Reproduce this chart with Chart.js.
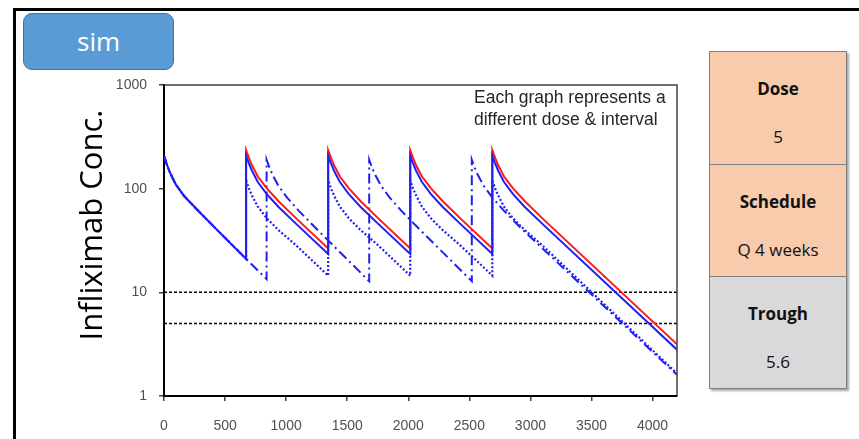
<!DOCTYPE html>
<html>
<head>
<meta charset="utf-8">
<script src="https://cdn.jsdelivr.net/npm/chart.js@4.4.1/dist/chart.umd.min.js"></script>
<style>
  html, body { margin: 0; padding: 0; background: #fff; }
  #wrap { position: relative; width: 859px; height: 439px; overflow: hidden; }
  #frame { position: absolute; left: 13px; top: 8px; width: 900px; height: 500px;
           border-left: 3px solid #000; border-top: 3px solid #000; }
  #box { position: absolute; left: 0; top: 0; width: 859px; height: 439px; }
  #sim { position: absolute; left: 23px; top: 13px; width: 151px; height: 57px; box-sizing: border-box;
         background: #5b9bd5; border: 1px solid #41719c; border-radius: 9px;
         color: #fff; font: 26px "Open Sans", sans-serif; text-align: center; line-height: 55px; }
  #panel { position: absolute; left: 709px; top: 51px; width: 138px; box-sizing: border-box;
           border: 1px solid #7f7f7f; box-shadow: 2px 2px 2px rgba(0,0,0,0.35);
           font-family: "Open Sans", sans-serif; color: #111; }
  .cell { position: relative; height: 112px; box-sizing: border-box; text-align: center; }
  .cell + .cell { border-top: 1px solid #7f7f7f; }
  .peach { background: #f8cbad; }
  .grey { background: #d9d9d9; }
  .head { position: absolute; left: 0; right: 0; top: 25px; line-height: 24px; font-size: 17px; font-weight: bold; }
  .val { position: absolute; left: 0; right: 0; top: 73px; line-height: 24px; font-size: 17px; }
</style>
</head>
<body>
<div id="wrap">
  <div id="frame"></div>
  <div id="box"><canvas id="pkChart"></canvas></div>
  <div id="sim">sim</div>
  <div id="panel">
    <div class="cell peach"><div class="head">Dose</div><div class="val">5</div></div>
    <div class="cell peach"><div class="head">Schedule</div><div class="val">Q 4 weeks</div></div>
    <div class="cell grey"><div class="head">Trough</div><div class="val">5.6</div></div>
  </div>
</div>
<script>
  // hours since first infusion, concentrations
  var q4Times = [0, 24, 48, 96, 168, 264, 408, 672,
    672, 696, 720, 768, 840, 936, 1080, 1344,
    1344, 1368, 1392, 1440, 1512, 1608, 1752, 2016,
    2016, 2040, 2064, 2112, 2184, 2280, 2424, 2688,
    2688, 2712, 2736, 2784, 2856, 2952, 3096, 4200];

  // blue solid: 5 mg/kg every 4 weeks
  var baseConc = [207, 170, 144, 110, 84, 64, 43, 21,
    208, 174, 149, 116, 89, 67, 46, 23.5,
    208, 174, 149, 116, 89, 67, 46, 23.5,
    208, 174, 149, 116, 89, 67, 46, 23.5,
    208, 174, 149, 116, 89, 67, 46, 2.8];

  // blue dotted: lower dose every 4 weeks
  var lowConc = [207, 170, 144, 110, 84, 64, 43, 21,
    120, 100, 86, 67, 52, 40, 28.5, 14.5,
    120, 100, 86, 67, 52, 40, 28.5, 14.5,
    120, 100, 86, 67, 52, 40, 28.5, 14.5,
    120, 100, 86, 67, 52, 40, 28.5, 1.65];

  // red solid: higher dose every 4 weeks, from the second infusion
  var highTimes = [672, 672, 696, 720, 768, 840, 936, 1080, 1344,
    1344, 1368, 1392, 1440, 1512, 1608, 1752, 2016,
    2016, 2040, 2064, 2112, 2184, 2280, 2424, 2688,
    2688, 2712, 2736, 2784, 2856, 2952, 3096, 4200];
  var highConc = [21, 235, 197, 168, 131, 101, 76, 52, 26.5,
    235, 197, 168, 131, 101, 76, 52, 26.5,
    235, 197, 168, 131, 101, 76, 52, 26.5,
    235, 197, 168, 131, 101, 76, 52, 3.15];

  // blue dash-dot: every 5 weeks
  var q5Times = [0, 24, 48, 96, 168, 264, 408, 840,
    840, 864, 888, 936, 1008, 1104, 1248, 1680,
    1680, 1704, 1728, 1776, 1848, 1944, 2088, 2520,
    2520, 2544, 2568, 2616, 2688, 2784, 2928, 4200];
  var q5Conc = [207, 170, 144, 110, 84, 64, 43, 13.4,
    190, 159, 137, 107, 82, 61, 41, 12.8,
    190, 159, 137, 107, 82, 61, 41, 12.8,
    190, 159, 137, 107, 82, 61, 41, 1.6];

  var thresholds = [10, 5];
  var xRange = [0, 4200];
  var xTicks = [0, 500, 1000, 1500, 2000, 2500, 3000, 3500, 4000];
  var yTicks = [1, 10, 100, 1000];
  var noteLines = ['Each graph represents a', 'different dose & interval'];
  var yTitle = 'Infliximab Conc.';

  function pts(xs, ys) {
    return xs.map(function (x, i) { return {x: x, y: ys[i]}; });
  }

  var blue = '#1f1ff5';
  var red = '#ff1a1a';
  var tickFont = {family: '"Liberation Sans", Arial, sans-serif', size: 14};

  var datasets = [
    {data: pts(q4Times, baseConc), borderColor: blue, borderWidth: 2},
    {data: pts(highTimes, highConc), borderColor: red, borderWidth: 2},
    {data: pts(q4Times, lowConc), borderColor: blue, borderWidth: 2.2, borderDash: [2, 2]},
    {data: pts(q5Times, q5Conc), borderColor: blue, borderWidth: 2, borderDash: [10, 4, 2, 4]}
  ];
  thresholds.forEach(function (t) {
    datasets.push({data: pts(xRange, [t, t]), borderColor: '#000', borderWidth: 1.5, borderDash: [3, 2]});
  });

  var decorPlugin = {
    id: 'decor',
    afterDraw: function (chart) {
      var ctx = chart.ctx, a = chart.chartArea;
      ctx.save();
      ctx.strokeStyle = '#404040';
      ctx.lineWidth = 1.5;
      ctx.beginPath();
      ctx.moveTo(a.left, a.top);
      ctx.lineTo(a.right, a.top);
      ctx.lineTo(a.right, a.bottom);
      ctx.stroke();

      ctx.fillStyle = '#262626';
      ctx.font = '17.5px "Liberation Sans", Arial, sans-serif';
      ctx.textAlign = 'left';
      ctx.textBaseline = 'alphabetic';
      ctx.fillText(noteLines[0], 474, 103);
      ctx.fillText(noteLines[1], 474, 125);

      ctx.translate(102, 225);
      ctx.rotate(-Math.PI / 2);
      ctx.textAlign = 'center';
      ctx.fillStyle = '#000';
      ctx.font = '31px "Open Sans", sans-serif';
      ctx.fillText(yTitle, 0, 0);
      ctx.restore();
    }
  };

  var ctx = document.getElementById('pkChart').getContext('2d');
  window.pkChart = new Chart(ctx, {
    type: 'line',
    data: {datasets: datasets},
    plugins: [decorPlugin],
    options: {
      responsive: true,
      maintainAspectRatio: false,
      animation: false,
      layout: {padding: {left: 100, top: 85, right: 182, bottom: 0}},
      plugins: {legend: {display: false}, tooltip: {enabled: false}},
      elements: {point: {radius: 0}, line: {tension: 0, fill: false}},
      scales: {
        x: {
          type: 'linear', min: xRange[0], max: xRange[1],
          afterBuildTicks: function (s) { s.ticks = xTicks.map(function (v) { return {value: v}; }); },
          afterFit: function (s) { s.height = 43; },
          border: {color: '#000', width: 2},
          grid: {drawOnChartArea: false, drawTicks: true, tickLength: 5, color: '#404040', lineWidth: 1.5},
          ticks: {font: tickFont, color: '#505050', padding: 17, maxRotation: 0, autoSkip: false,
                  callback: function (v) { return String(v); }}
        },
        y: {
          type: 'logarithmic', min: 1, max: 1000,
          afterBuildTicks: function (s) { s.ticks = yTicks.map(function (v) { return {value: v}; }); },
          afterFit: function (s) { s.width = 64; },
          border: {color: '#000', width: 2},
          grid: {drawOnChartArea: false, drawTicks: true, tickLength: 5, color: '#404040', lineWidth: 1.5},
          ticks: {font: tickFont, color: '#505050', padding: 12, autoSkip: false,
                  callback: function (v) { return String(v); }}
        }
      }
    }
  });
</script>
</body>
</html>
